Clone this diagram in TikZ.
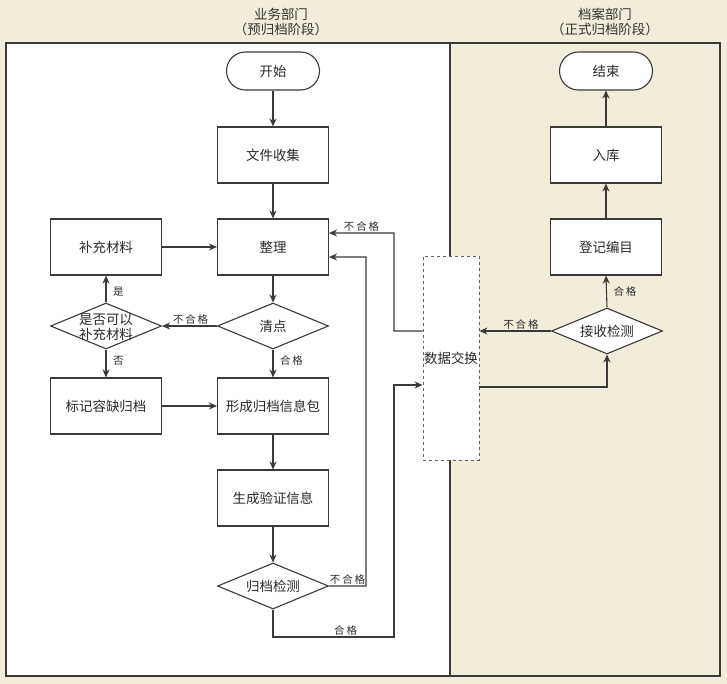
\documentclass[tikz,border=0pt]{standalone}
\usepackage{fontspec}
\setmainfont{Noto Sans CJK SC}
\newfontfamily\lblfont[LetterSpace=18]{Noto Sans CJK SC}
\usetikzlibrary{shapes.geometric,arrows.meta}
\definecolor{bg}{HTML}{F2ECDB}
\definecolor{ln}{HTML}{3A3A3A}
\definecolor{tx}{HTML}{2A2A2A}
\begin{document}
\begin{tikzpicture}[x=1bp,y=-1bp,
  every node/.style={text=tx},
  proc/.style={draw=ln,line width=1.1bp,fill=white,minimum width=111bp,minimum height=56bp,inner sep=0pt,font=\fontsize{13.5}{15}\selectfont},
  term/.style={draw=ln,line width=1.1bp,fill=white,rounded corners=19bp,minimum width=93bp,minimum height=38bp,inner sep=0pt,font=\fontsize{13.5}{15}\selectfont},
  dia/.style={draw=ln,line width=1.1bp,fill=white,diamond,minimum width=111bp,minimum height=46bp,inner sep=0pt},
  dtxt/.style={inner sep=0pt,align=center,font=\fontsize{13.5}{14.5}\selectfont},
  lbl/.style={inner sep=1.5bp,font=\lblfont\fontsize{10.5}{12}\selectfont},
  rlbl/.style={lbl,right,xshift=5bp},
  arr/.style={draw=ln,line width=1.1bp,-{Stealth[length=8bp,width=7bp]}},
  ttl/.style={align=center,font=\fontsize{13.5}{15.5}\selectfont,text=black!80}
]
\fill[bg] (0,0) rectangle (727,684);
\useasboundingbox (0,0) rectangle (727,684);
\fill[white] (6,43) rectangle (450,676);
\draw[ln,line width=1.2bp] (6,43) rectangle (720,676);
\draw[ln,line width=1.2bp] (450,43) -- (450,676);

\node[ttl] (t1) at (281,22) {业务部门\\（预归档阶段）};
\node[ttl] (t2) at (605,22) {档案部门\\（正式归档阶段）};

% left lane
\node[term] (start) at (273,71) {开始};
\node[proc] (collect) at (273,155) {文件收集};
\node[proc] (sort) at (273,247) {整理};
\node[dia] (count) at (273,326) {};
\node[dtxt] (countt) at (count) {清点};
\node[proc] (pack) at (273,406) {形成归档信息包};
\node[proc] (verify) at (273,498) {生成验证信息};
\node[dia] (check) at (273,586) {};
\node[dtxt] (checkt) at (check) {归档检测};

\node[proc] (supp) at (106,247) {补充材料};
\node[dia] (ask) at (106,326) {};
\node[dtxt] (askt) at (106,327) {是否可以\\补充材料};
\node[proc] (mark) at (106,406) {标记容缺归档};

% right lane
\node[term] (end) at (606,71) {结束};
\node[proc] (store) at (606,155) {入库};
\node[proc] (reg) at (606,247) {登记编目};
\node[dia] (recv) at (607,331) {};
\node[dtxt] (recvt) at (recv) {接收检测};

\node[draw=ln!80,dashed,line width=0.9bp,fill=white,minimum width=56bp,minimum height=204bp,inner sep=0pt,font=\fontsize{13.5}{15}\selectfont] (dx) at (451,358) {数据交换};

% connectors left
\draw[arr] (start) -- (collect);
\draw[arr] (collect) -- (sort);
\draw[arr] (supp) -- (sort);
\draw[arr] (sort) -- (count);
\draw[arr] (count) -- node[lbl,above,pos=0.48]{不合格} (ask);
\draw[arr] (count) -- node[rlbl,pos=0.4]{合格} (pack);
\draw[arr] (ask) -- node[rlbl,pos=0.4]{是} (supp);
\draw[arr] (ask) -- node[rlbl,pos=0.4]{否} (mark);
\draw[arr] (mark) -- (pack);
\draw[arr] (pack) -- (verify);
\draw[arr] (verify) -- (check);
\draw[arr] (check.east) -- node[lbl,above,pos=0.5]{不合格} (366,586) -- (366,257) -- ([yshift=-10bp]sort.east);
\draw[arr] (check.south) -- (273,637) -- node[lbl,above,pos=0.6]{合格} (394,637) -- (394,385) -- (dx.west |- 0,385);
\draw[arr] (dx.west |- 0,331) -- (394,331) -- (394,233) -- node[lbl,above,pos=0.5]{不合格} ([yshift=14bp]sort.east);

% connectors right
\draw[arr] (recv.west) -- node[lbl,above,pos=0.42]{不合格} (dx.east |- recv.west);
\draw[arr] (dx.east |- 0,387) -- (607,387) -- (recv.south);
\draw[arr] (recv.north) -- node[rlbl,pos=0.5]{合格} (reg.south);
\draw[arr] (reg) -- (store);
\draw[arr] (store) -- (end);
\end{tikzpicture}
\end{document}
